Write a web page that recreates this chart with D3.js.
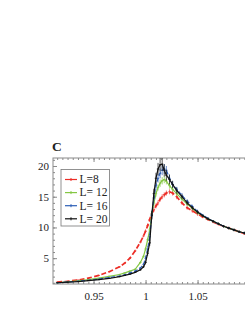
<!DOCTYPE html>
<html lang="en">
    <head>
        <meta charset="utf-8">
        <title>Panel C</title>
        <style>
            body { margin: 0; background: white; }
            svg { display: block; }
            text { font-family: "Liberation Serif", "DejaVu Serif", serif; fill: #222; }
        </style>
    </head>
    <body>
        <svg width="245" height="317"></svg>
        <script src="https://d3js.org/d3.v7.min.js"></script>
        <script>
            // data
            var xs = [0.915, 0.925, 0.935, 0.945, 0.955, 0.965, 0.975, 0.98, 0.985, 0.99,
                      0.995, 0.998, 1.0, 1.002, 1.004, 1.006, 1.008, 1.01, 1.012, 1.014,
                      1.016, 1.018, 1.02, 1.023, 1.026, 1.03, 1.035, 1.04, 1.045, 1.05,
                      1.055, 1.06, 1.065, 1.07, 1.075, 1.08, 1.085, 1.09, 1.095, 1.1];

            var yL8  = [1.1, 1.25, 1.45, 1.75, 2.2, 2.8, 3.6, 4.2, 5.0, 6.2,
                        7.6, 8.6, 9.4, 10.3, 11.3, 12.2, 12.9, 13.5, 14.0, 14.6,
                        15.0, 15.3, 15.6, 15.8, 15.6, 15.0, 14.0, 13.2, 12.7, 12.2,
                        11.7, 11.3, 10.9, 10.5, 10.2, 9.9, 9.6, 9.3, 9.0, 8.7];
            var yL12 = [1.0, 1.15, 1.3, 1.5, 1.75, 2.05, 2.35, 2.6, 2.9, 3.2,
                        4.3, 5.3, 6.5, 8.0, 9.6, 12.2, 14.0, 15.5, 16.5, 17.2,
                        17.6, 17.8, 17.5, 16.8, 16.2, 15.5, 14.6, 13.8, 13.1, 12.4,
                        11.9, 11.4, 11.0, 10.6, 10.2, 9.9, 9.6, 9.3, 9.1, 8.8];
            var yL16 = [1.0, 1.1, 1.25, 1.4, 1.6, 1.85, 2.1, 2.3, 2.6, 2.9,
                        3.4, 4.0, 5.0, 6.5, 8.5, 12.0, 14.8, 16.8, 18.0, 18.8,
                        19.3, 19.5, 19.3, 18.0, 17.0, 16.2, 15.2, 14.3, 13.4, 12.6,
                        12.0, 11.5, 11.0, 10.6, 10.2, 9.9, 9.6, 9.3, 9.1, 8.8];
            var yL20 = [1.0, 1.1, 1.2, 1.35, 1.5, 1.7, 2.0, 2.2, 2.4, 2.7,
                        3.1, 3.6, 4.3, 5.8, 7.5, 12.0, 15.5, 18.0, 19.5, 20.2,
                        20.3, 19.3, 18.5, 17.8, 17.0, 16.0, 15.0, 14.0, 13.2, 12.5,
                        11.9, 11.4, 11.0, 10.6, 10.2, 9.9, 9.6, 9.3, 9.1, 8.8];

            // error bar half-heights
            var eL8  = [0.05, 0.05, 0.05, 0.05, 0.1, 0.1, 0.1, 0.1, 0.15, 0.2,
                        0.2, 0.2, 0.3, 0.3, 0.3, 0.3, 0.4, 0.4, 0.4, 0.4,
                        0.4, 0.4, 0.4, 0.4, 0.4, 0.4, 0.3, 0.3, 0.3, 0.3,
                        0.2, 0.2, 0.2, 0.2, 0.2, 0.2, 0.2, 0.2, 0.2, 0.2];
            var eL12 = [0.05, 0.05, 0.05, 0.05, 0.05, 0.1, 0.1, 0.1, 0.1, 0.15,
                        0.2, 0.2, 0.3, 0.3, 0.4, 0.4, 0.5, 0.5, 0.5, 0.6,
                        0.6, 0.6, 0.5, 0.5, 0.4, 0.4, 0.3, 0.3, 0.3, 0.3,
                        0.2, 0.2, 0.2, 0.2, 0.2, 0.2, 0.2, 0.2, 0.2, 0.2];
            var eL16 = [0.05, 0.05, 0.05, 0.05, 0.05, 0.05, 0.1, 0.1, 0.1, 0.1,
                        0.15, 0.2, 0.3, 0.4, 0.5, 0.6, 0.6, 0.7, 0.7, 0.8,
                        0.8, 0.8, 0.7, 0.6, 0.5, 0.4, 0.4, 0.3, 0.3, 0.3,
                        0.2, 0.2, 0.2, 0.2, 0.2, 0.2, 0.2, 0.2, 0.2, 0.2];
            var eL20 = [0.05, 0.05, 0.05, 0.05, 0.05, 0.05, 0.1, 0.1, 0.1, 0.1,
                        0.15, 0.2, 0.3, 0.4, 0.5, 0.7, 0.8, 0.9, 1.0, 1.1,
                        1.1, 1.0, 0.9, 0.8, 0.6, 0.5, 0.4, 0.4, 0.3, 0.3,
                        0.2, 0.2, 0.2, 0.2, 0.2, 0.2, 0.2, 0.2, 0.2, 0.2];

            var labels = ["L=8", "L= 12", "L= 16", "L= 20"];
            var colors = ["#ec2d26", "#84c743", "#2d5fb6", "#111111"];
            var dashes = ["5,2.5", null, "4,2", null];
            var xTicks = [0.95, 1, 1.05];
            var yTicks = [5, 10, 15, 20];

            var svg = d3.select("svg"),
                margin = {top: 158, right: -5, bottom: 33, left: 53},
                width = +svg.attr("width") - margin.left - margin.right,
                height = +svg.attr("height") - margin.top - margin.bottom,
                g = svg.append("g").attr("transform", "translate(" + margin.left + "," + margin.top + ")");

            var x = d3.scaleLinear().domain([0.911, 0.911 + width / 1040]).range([0, width]);
            var y = d3.scaleLinear().domain([0.8, 21.3]).range([height, 0]);

            svg.append("defs").append("clipPath").attr("id", "clip")
              .append("rect").attr("width", width).attr("height", height);

            // frame ticks (Mathematica style, inside)
            var minorX = d3.range(0.915, 1.1, 0.005), minorY = d3.range(1, 22, 1);
            var frameCol = "#8a8a8a";
            function frameTicks(axis) {
                return function(a) {
                    a.call(axis);
                    a.select(".domain").remove();
                    a.selectAll("line").attr("stroke", frameCol);
                };
            }
            var bottom = "translate(0," + height + ")";
            g.append("g").attr("transform", bottom).call(frameTicks(d3.axisBottom(x).tickValues(xTicks).tickSize(-4).tickFormat("")));
            g.append("g").attr("transform", bottom).call(frameTicks(d3.axisBottom(x).tickValues(minorX).tickSize(-2).tickFormat("")));
            g.append("g").call(frameTicks(d3.axisTop(x).tickValues(xTicks).tickSize(-4).tickFormat("")));
            g.append("g").call(frameTicks(d3.axisTop(x).tickValues(minorX).tickSize(-2).tickFormat("")));
            g.append("g").call(frameTicks(d3.axisLeft(y).tickValues(yTicks).tickSize(-4).tickFormat("")));
            g.append("g").call(frameTicks(d3.axisLeft(y).tickValues(minorY).tickSize(-2).tickFormat("")));

            g.append("rect")
                .attr("width", width).attr("height", height)
                .attr("fill", "none").attr("stroke", frameCol).attr("stroke-width", 1);

            // tick labels
            g.append("g").attr("transform", bottom)
                .call(d3.axisBottom(x).tickValues(xTicks).tickSize(0).tickPadding(8)
                    .tickFormat(function(d) { return d === 1 ? "1" : d3.format(".2f")(d).replace(/0$/, ""); }))
                .call(function(a) { a.select(".domain").remove(); })
                .selectAll("text").style("font-family", "Liberation Serif").style("font-size", "11px").attr("fill", "#222");
            g.append("g")
                .call(d3.axisLeft(y).tickValues(yTicks).tickSize(0).tickPadding(4))
                .call(function(a) { a.select(".domain").remove(); })
                .selectAll("text").style("font-family", "Liberation Serif").style("font-size", "11px").attr("fill", "#222");

            // curves
            var series = [yL8, yL12, yL16, yL20];
            var errs = [eL8, eL12, eL16, eL20];
            var line = d3.line().x(function(d) { return x(d[0]); }).y(function(d) { return y(d[1]); });
            var plot = g.append("g").attr("clip-path", "url(#clip)");

            series.forEach(function(ys, k) {
                var pts = xs.map(function(v, i) { return [v, ys[i], errs[k][i]]; });
                var s = plot.append("g");
                s.append("path").datum(pts)
                    .attr("d", line)
                    .attr("fill", "none")
                    .attr("stroke", colors[k])
                    .attr("stroke-width", k === 0 ? 1.7 : 1.2)
                    .attr("stroke-dasharray", dashes[k]);
                s.selectAll(".eb").data(pts).enter().append("line")
                    .attr("x1", function(d) { return x(d[0]); })
                    .attr("x2", function(d) { return x(d[0]); })
                    .attr("y1", function(d) { return y(d[1] - d[2]); })
                    .attr("y2", function(d) { return y(d[1] + d[2]); })
                    .attr("stroke", colors[k]).attr("stroke-width", 0.7);
                s.selectAll(".mk").data(pts).enter().append("line")
                    .attr("x1", function(d) { return x(d[0]) - 1.2; })
                    .attr("x2", function(d) { return x(d[0]) + 1.2; })
                    .attr("y1", function(d) { return y(d[1]); })
                    .attr("y2", function(d) { return y(d[1]); })
                    .attr("stroke", colors[k]).attr("stroke-width", 0.8);
            });

            // legend
            var lg = g.append("g").attr("transform", "translate(8,11.5)");
            lg.append("rect").attr("width", 48.5).attr("height", 56.5)
                .attr("fill", "white").attr("stroke", "#777").attr("stroke-width", 0.8);
            labels.forEach(function(t, k) {
                var ly = 10 + k * 13.1;
                lg.append("line").attr("x1", 4).attr("x2", 16).attr("y1", ly).attr("y2", ly)
                    .attr("stroke", colors[k]).attr("stroke-width", 1.2);
                lg.append("line").attr("x1", 10).attr("x2", 10).attr("y1", ly - 1.5).attr("y2", ly + 1.5)
                    .attr("stroke", colors[k]).attr("stroke-width", 1);
                lg.append("text").attr("x", 18.5).attr("y", ly + 3.8)
                    .style("font-size", "11.5px").text(t);
            });

            // panel letter
            svg.append("text").attr("x", 52).attr("y", 151)
                .style("font-size", "13.5px").style("font-weight", "bold").text("C");
        </script>
    </body>
</html>
